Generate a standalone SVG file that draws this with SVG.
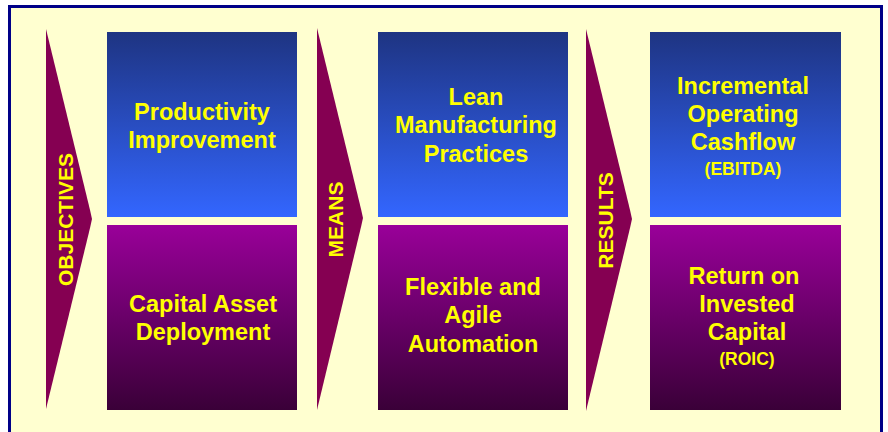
<svg xmlns="http://www.w3.org/2000/svg" width="888" height="432" viewBox="0 0 888 432">
<defs>
<linearGradient id="gBlue" x1="0" y1="0" x2="0" y2="1">
<stop offset="0" stop-color="#1E3482"/>
<stop offset="1" stop-color="#3366FF"/>
</linearGradient>
<linearGradient id="gPurple" x1="0" y1="0" x2="0" y2="1">
<stop offset="0" stop-color="#990099"/>
<stop offset="1" stop-color="#3A0038"/>
</linearGradient>
<style>
.arrow{fill:#850052;}
.lbl{font-family:"Liberation Sans",Arial,sans-serif;font-weight:bold;fill:#FFFF00;text-anchor:middle;}
.t{font-size:23.5px;}
.s{font-size:17.5px;}
.v{font-size:21px;}
</style>
</defs>
<rect x="0" y="0" width="888" height="432" fill="#FFFFFF"/>
<rect x="9.5" y="6.5" width="872" height="440" fill="#FFFFD0" stroke="#000088" stroke-width="3"/>
<g id="connectors">
<g id="arrow-objectives">
<polygon class="arrow" points="46,29 90,210 92,219 90,228 46,409"/>
<text class="lbl v" transform="translate(72.5,219.5) rotate(-90)">OBJECTIVES</text>
</g>
<g id="arrow-means">
<polygon class="arrow" points="317,28 361,209 363,218 361,227 317,410"/>
<text class="lbl v" transform="translate(342.5,219.5) rotate(-90)">MEANS</text>
</g>
<g id="arrow-results">
<polygon class="arrow" points="586,29 630,210 632,219 630,228 586,411"/>
<text class="lbl v" transform="translate(612.5,220.5) rotate(-90)">RESULTS</text>
</g>
</g>
<g id="productivity">
<rect x="107" y="32" width="190" height="185" fill="url(#gBlue)"/>
<text class="lbl t" x="202" y="120">Productivity</text>
<text class="lbl t" x="202" y="148">Improvement</text>
</g>
<g id="capital-asset">
<rect x="107" y="225" width="190" height="185" fill="url(#gPurple)"/>
<text class="lbl t" x="203" y="312">Capital Asset</text>
<text class="lbl t" x="203" y="340">Deployment</text>
</g>
<g id="lean">
<rect x="378" y="32" width="190" height="185" fill="url(#gBlue)"/>
<text class="lbl t" x="476" y="105">Lean</text>
<text class="lbl t" x="476" y="133">Manufacturing</text>
<text class="lbl t" x="476" y="161.5">Practices</text>
</g>
<g id="flexible">
<rect x="378" y="225" width="190" height="185" fill="url(#gPurple)"/>
<text class="lbl t" x="473" y="295">Flexible and</text>
<text class="lbl t" x="473" y="323">Agile</text>
<text class="lbl t" x="473" y="351.5">Automation</text>
</g>
<g id="cashflow">
<rect x="650" y="32" width="191" height="185" fill="url(#gBlue)"/>
<text class="lbl t" x="743" y="94">Incremental</text>
<text class="lbl t" x="743" y="122">Operating</text>
<text class="lbl t" x="743" y="150">Cashflow</text>
<text class="lbl s" x="743" y="175">(EBITDA)</text>
</g>
<g id="roic">
<rect x="650" y="225" width="191" height="185" fill="url(#gPurple)"/>
<text class="lbl t" x="744" y="284">Return on</text>
<text class="lbl t" x="747" y="312">Invested</text>
<text class="lbl t" x="747" y="340">Capital</text>
<text class="lbl s" x="747" y="365">(ROIC)</text>
</g>
</svg>
